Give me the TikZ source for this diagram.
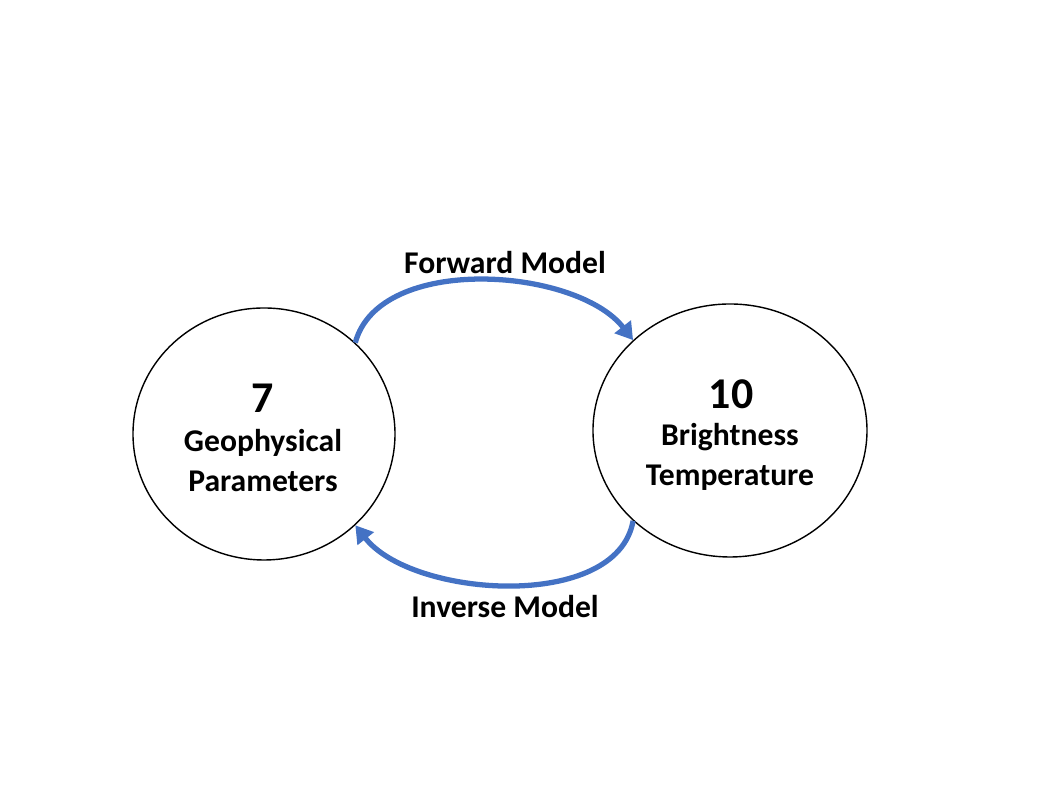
\documentclass[tikz,border=0pt]{standalone}
\usepackage{fontspec}
\setmainfont{Carlito}
\usetikzlibrary{arrows.meta,shapes.geometric}

\begin{document}
\begin{tikzpicture}[
		state/.style={draw,ellipse,thin,inner sep=0pt},
		flow/.style={draw=arrowblue,line width=1.5pt,-{Triangle[length=1.7mm,width=2mm]}},
		lbl/.style={font=\fontsize{9}{11.2}\selectfont\bfseries,align=center},
		num/.style={font=\fontsize{12.5}{14}\selectfont\bfseries}
	]
		\definecolor{arrowblue}{RGB}{68,114,196}
		\useasboundingbox (0,0) rectangle (10.58,7.94);
		\node[state,minimum width=2.62cm,minimum height=2.52cm] (geo) at (2.64,3.60) {};
		\node[state,minimum width=2.74cm,minimum height=2.53cm] (bt) at (7.30,3.635) {};
		\node[num] (geo-n) at (2.63,3.96) {7};
		\node[lbl] (geo-t) at (2.63,3.335) {Geophysical\\Parameters};
		\node[num] (bt-n) at (7.31,4.00) {10};
		\node[lbl] (bt-t) at (7.30,3.37) {Brightness\\Temperature};
		\path[flow] (geo.45) to[out=75,in=128,looseness=0.85] (bt.137);
		\path[flow] (bt.223) to[out=-100,in=-52,looseness=0.85] (geo.315);
		\node[lbl] (fwd) at (5.05,5.31) {Forward Model};
		\node[lbl] (inv) at (5.05,1.87) {Inverse Model};
	\end{tikzpicture}
\end{document}
